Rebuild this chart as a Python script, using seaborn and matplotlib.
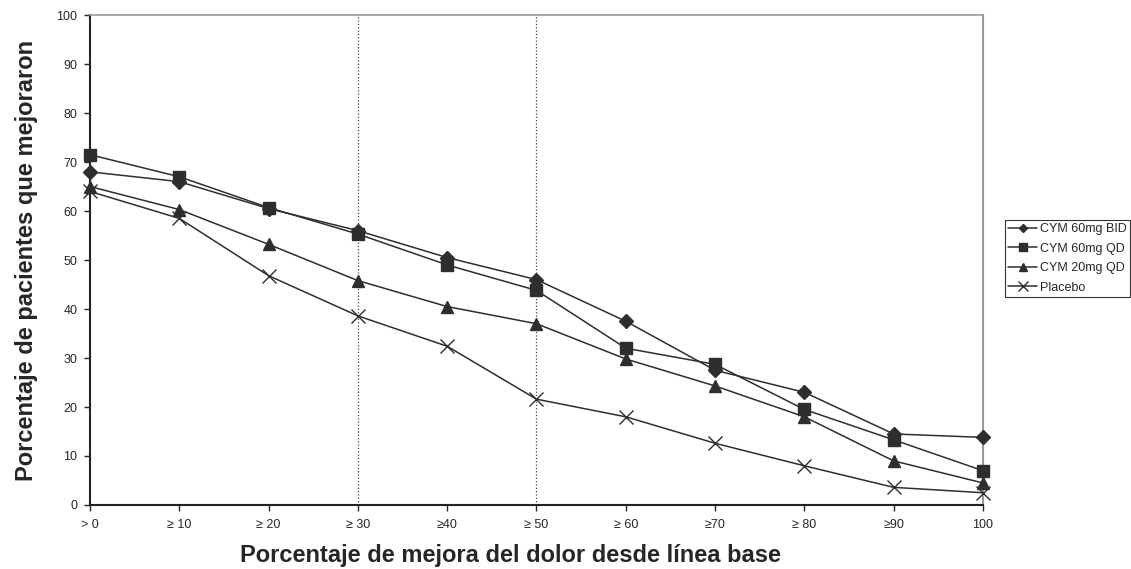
import pandas as pd
import numpy as np
import matplotlib
matplotlib.use("Agg")
import matplotlib.pyplot as plt
import seaborn as sns

sns.set_style("white")
plt.rcParams['font.family'] = ['Liberation Sans', 'DejaVu Sans']

# Datos
categorias = ['> 0', '≥ 10', '≥ 20', '≥ 30', '≥40', '≥ 50', '≥ 60', '≥70', '≥ 80', '≥90', '100']
cym60_bid = [68.0, 66.0, 60.5, 56.0, 50.5, 46.0, 37.5, 27.5, 23.0, 14.5, 13.8]
cym60_qd = [71.5, 67.0, 60.7, 55.3, 49.0, 43.8, 32.0, 28.7, 19.5, 13.3, 7.0]
cym20_qd = [65.0, 60.3, 53.2, 45.8, 40.5, 37.0, 29.8, 24.3, 18.0, 9.0, 4.5]
placebo = [64.0, 58.5, 46.8, 38.6, 32.4, 21.6, 18.0, 12.6, 8.0, 3.6, 2.5]
grupos = ['CYM 60mg BID', 'CYM 60mg QD', 'CYM 20mg QD', 'Placebo']

series = {'CYM 60mg BID': cym60_bid, 'CYM 60mg QD': cym60_qd,
          'CYM 20mg QD': cym20_qd, 'Placebo': placebo}
filas = []
for g in grupos:
    for i, v in enumerate(series[g]):
        filas.append({'pos': i, 'valor': v, 'grupo': g})
df = pd.DataFrame(filas)

marcadores = {'CYM 60mg BID': 'D', 'CYM 60mg QD': 's', 'CYM 20mg QD': '^', 'Placebo': 'x'}
tamanos = {'CYM 60mg BID': 7, 'CYM 60mg QD': 9, 'CYM 20mg QD': 9, 'Placebo': 10}
color = '#2e2e2e'

fig = plt.figure(figsize=(11.31, 5.69), dpi=100)
ax = fig.add_axes([0.0796, 0.1125, 0.7895, 0.861])

for g in grupos:
    sns.lineplot(data=df[df['grupo'] == g], x='pos', y='valor', ax=ax, color=color,
                 marker=marcadores[g], markersize=tamanos[g], markeredgewidth=1,
                 markeredgecolor=color, markerfacecolor=color, linewidth=1.1,
                 label=g, legend=False, clip_on=False, zorder=3)

# Líneas punteadas en ≥30 y ≥50
for p in [3, 5]:
    ax.axvline(p, color='#444444', linestyle=':', linewidth=0.9, zorder=0)

ax.set_xlim(0, len(categorias) - 1)
ax.set_ylim(0, 100)
ax.set_xticks(range(len(categorias)))
ax.set_xticklabels(categorias, fontsize=9)
ax.set_yticks(range(0, 101, 10))
ax.tick_params(axis='y', labelsize=9, left=True, length=4, width=1, direction='out', pad=5)
ax.tick_params(axis='x', bottom=True, length=4, width=1, direction='out', pad=6)

ax.spines['left'].set_color('#222222')
ax.spines['left'].set_linewidth(1.5)
ax.spines['bottom'].set_color('#222222')
ax.spines['bottom'].set_linewidth(1.5)
ax.spines['top'].set_color('#999999')
ax.spines['right'].set_color('#999999')
ax.spines['top'].set_linewidth(1.2)
ax.spines['right'].set_linewidth(1.5)

ax.set_xlabel('Porcentaje de mejora del dolor desde línea base', fontsize=17,
              fontweight='bold')
ax.xaxis.set_label_coords((511 - 90) / 893, -57 / 490)
ax.xaxis.label.set_va('baseline')
ax.set_ylabel('Porcentaje de pacientes que mejoraron', fontsize=17,
              fontweight='bold', labelpad=13)

handles, labels = ax.get_legend_handles_labels()
leg = fig.legend(handles, labels, loc='upper left', bbox_to_anchor=(1005 / 1131, 1 - 220 / 569),
                 fontsize=9, frameon=True, fancybox=False, edgecolor='black',
                 handlelength=2.3, handletextpad=0.25, borderpad=0.25, labelspacing=0.6,
                 borderaxespad=0, markerscale=0.65)
leg.get_frame().set_linewidth(0.8)

fig.savefig('out.png', dpi=100)
